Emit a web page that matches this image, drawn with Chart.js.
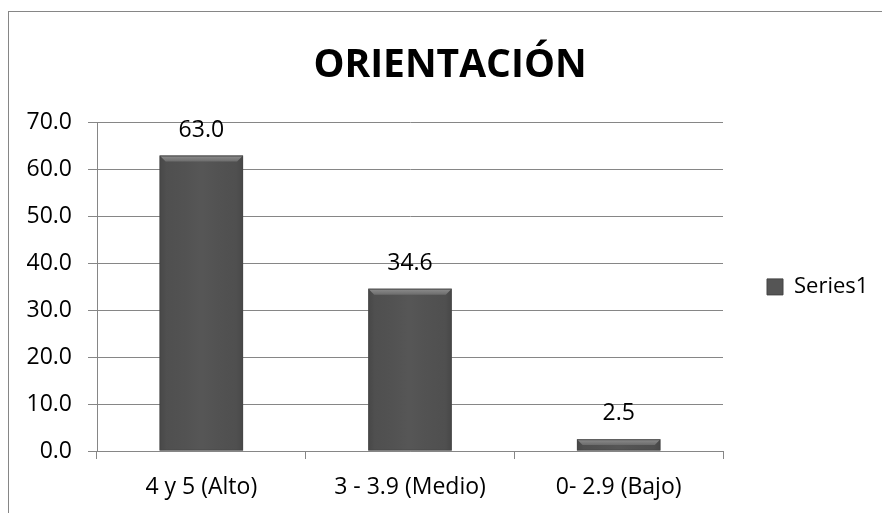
<!DOCTYPE html>
<html>
<head>
<meta charset="utf-8">
<script src="https://cdn.jsdelivr.net/npm/chart.js@4.4.1/dist/chart.umd.min.js"></script>
<style>
  html, body { margin: 0; padding: 0; background: #fff; }
  #wrap { width: 882px; height: 513px; }
</style>
</head>
<body>
<div id="wrap"><canvas id="chart"></canvas></div>
<script>
// datos del gráfico
const categorias = ['4 y 5 (Alto)', '3 - 3.9 (Medio)', '0- 2.9 (Bajo)'];
const valores = [63.0, 34.6, 2.5];
const serieNombre = 'Series1';
const titulo = 'ORIENTACIÓN';

const FONT = "'Open Sans', 'Liberation Sans', sans-serif";
const GRIS = '#868686';
const BARRA = '#515151';

// marco del gráfico (se sale por la derecha y por abajo)
const marco = {
    id: 'marco',
    beforeDraw(chart) {
        const ctx = chart.ctx;
        ctx.save();
        ctx.fillStyle = '#fff';
        ctx.fillRect(0, 0, chart.width, chart.height);
        ctx.strokeStyle = GRIS;
        ctx.lineWidth = 1;
        ctx.strokeRect(8.5, 11.5, chart.width + 20, chart.height + 20);
        ctx.restore();
    }
};

// sombreado de las barras + etiquetas de valor
const barras = {
    id: 'barras',
    afterDatasetsDraw(chart) {
        const ctx = chart.ctx;
        const meta = chart.getDatasetMeta(0);
        ctx.save();
        meta.data.forEach((bar, i) => {
            const left = bar.x - bar.width / 2;
            const right = bar.x + bar.width / 2;
            const top = Math.min(bar.y, bar.base);
            const bottom = Math.max(bar.y, bar.base);
            const w = right - left;
            const h = bottom - top;
            // degradado horizontal suave
            const g = ctx.createLinearGradient(left, 0, right, 0);
            g.addColorStop(0, 'rgba(0,0,0,0.12)');
            g.addColorStop(0.08, 'rgba(0,0,0,0.02)');
            g.addColorStop(0.5, 'rgba(255,255,255,0.03)');
            g.addColorStop(0.92, 'rgba(0,0,0,0.02)');
            g.addColorStop(1, 'rgba(0,0,0,0.12)');
            ctx.fillStyle = g;
            ctx.fillRect(left, top, w, h);
            // bisel superior
            const b = Math.min(6, h / 2);
            ctx.beginPath();
            ctx.moveTo(left, top);
            ctx.lineTo(right, top);
            ctx.lineTo(right - b, top + b);
            ctx.lineTo(left + b, top + b);
            ctx.closePath();
            const gt = ctx.createLinearGradient(0, top, 0, top + b);
            gt.addColorStop(0, '#8e8e8e');
            gt.addColorStop(1, '#6c6c6c');
            ctx.fillStyle = gt;
            ctx.fill();
            ctx.strokeStyle = 'rgba(70,70,70,0.8)';
            ctx.lineWidth = 1;
            ctx.strokeRect(left + 0.5, top + 0.5, w - 1, h - 1);

            // etiqueta del valor
            ctx.fillStyle = '#000';
            ctx.font = '23px ' + FONT;
            ctx.textAlign = 'center';
            ctx.textBaseline = 'bottom';
            ctx.fillText(valores[i].toFixed(1), bar.x, top - 14);
        });
        ctx.restore();
    }
};

// ancho fijo para la leyenda de la derecha
const leyendaFija = {
    id: 'leyendaFija',
    afterInit(chart) {
        const leg = chart.legend;
        if (!leg) return;
        const fit = leg.fit.bind(leg);
        leg.fit = function () {
            fit();
            this.width = 159;
        };
    }
};

new Chart(document.getElementById('chart'), {
    type: 'bar',
    data: {
        labels: categorias,
        datasets: [{
            label: serieNombre,
            data: valores,
            backgroundColor: BARRA,
            borderWidth: 0,
            categoryPercentage: 1.0,
            barPercentage: 0.4
        }]
    },
    options: {
        responsive: true,
        maintainAspectRatio: false,
        animation: false,
        devicePixelRatio: 1,
        layout: { padding: { left: 18, right: 0, top: 0, bottom: 0 } },
        scales: {
            x: {
                grid: { drawOnChartArea: false, drawTicks: true, tickLength: 8, color: GRIS, offset: true },
                border: { color: GRIS, width: 1 },
                ticks: { color: '#000', font: { family: FONT, size: 23 }, padding: 15, maxRotation: 0 },
                afterFit(scale) { scale.height = 62; }
            },
            y: {
                min: 0,
                max: 70,
                ticks: {
                    stepSize: 10,
                    color: '#000',
                    font: { family: FONT, size: 23 },
                    padding: 16,
                    callback: v => Number(v).toFixed(1)
                },
                grid: { color: GRIS, tickLength: 9 },
                border: { color: GRIS, width: 1 },
                afterFit(scale) { scale.width = 79; }
            }
        },
        plugins: {
            title: {
                display: true,
                text: titulo,
                color: '#000',
                font: { family: FONT, size: 39, weight: 'bold' },
                padding: { top: 42, bottom: 34 }
            },
            legend: {
                position: 'right',
                align: 'center',
                fullSize: false,
                labels: {
                    color: '#000',
                    font: { family: FONT, size: 22 },
                    boxWidth: 16,
                    boxHeight: 16,
                    padding: 44,
                    generateLabels: chart => [{
                        text: serieNombre,
                        fillStyle: '#555',
                        strokeStyle: '#444',
                        lineWidth: 1,
                        datasetIndex: 0
                    }]
                }
            },
            tooltip: { enabled: false }
        }
    },
    plugins: [marco, barras, leyendaFija]
});
</script>
</body>
</html>
